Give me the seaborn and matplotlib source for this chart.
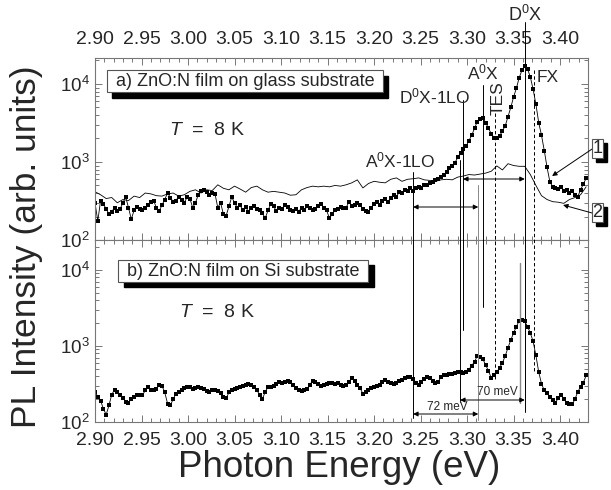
import numpy as np
import pandas as pd
import matplotlib
matplotlib.use("Agg")
import matplotlib.pyplot as plt
import seaborn as sns
from matplotlib.patches import Rectangle
from matplotlib.ticker import MultipleLocator, FormatStrFormatter

sns.set_style("ticks")
plt.rcParams["font.family"] = ["Liberation Sans", "DejaVu Sans"]
plt.rcParams["mathtext.fontset"] = "custom"
plt.rcParams["mathtext.rm"] = "Liberation Sans"
plt.rcParams["mathtext.it"] = "Liberation Sans:italic"
plt.rcParams["mathtext.bf"] = "Liberation Sans:bold"

# ---------------- data ----------------
E_START = 2.900
FINE_STEP = 0.003
COARSE_STEP = 0.006

# a) glass substrate, spectrum 1 (squares)
glass_1 = [
    300, 175, 320, 290, 250, 215, 230, 260, 235, 250,
    300, 355, 260, 185, 240, 265, 250, 240, 255, 280,
    310, 320, 260, 235, 280, 330, 400, 350, 310, 320,
    360, 330, 300, 355, 340, 260, 300, 380, 420, 440,
    410, 380, 400, 390, 260, 300, 215, 205, 270, 355,
    300, 260, 280, 240, 265, 230, 260, 270, 250, 240,
    220, 190, 240, 290, 270, 235, 260, 250, 280, 265,
    245, 235, 250, 230, 260, 240, 270, 255, 240, 250,
    270, 290, 260, 240, 190, 215, 240, 250, 265, 255,
    260, 310, 275, 280, 300, 280, 250, 235, 230, 260,
    290, 310, 280, 320, 340, 310, 350, 380, 360, 410,
    400, 440, 420, 460, 430, 470, 480, 470, 500, 510,
    530, 550, 580, 600, 640, 680, 740, 830, 900, 980,
    1150, 1300, 1450, 1600, 1870, 2200, 2700, 3300, 3600, 3700,
    3200, 2700, 2300, 2050, 2000, 2150, 2500, 2900, 3800, 5000,
    6800, 8800, 12000, 15000, 16800, 15500, 12300, 8500, 5500, 3200,
    2200, 1400, 850, 560, 480, 470, 450, 480, 430, 440,
    400, 430, 380, 360, 440, 520, 620,
]

# a) glass substrate, spectrum 2 (thin line)
glass_2 = [
    415, 380, 340, 350, 300, 330, 320, 365, 350, 400,
    390, 370, 365, 390, 400, 365, 380, 420, 440, 400,
    440, 430, 510, 460, 440, 490, 450, 410, 470, 490,
    440, 410, 420, 410, 400, 375, 380, 440, 470, 490,
    480, 490, 480, 500, 490, 510, 540, 590, 465, 530,
    565, 550, 540, 600, 625, 565, 600, 610, 625, 590,
    580, 565, 590, 600, 590, 640, 660, 690, 680, 700,
    720, 760, 890, 790, 950, 900, 880, 880, 690, 500,
    370, 330, 310, 305, 295, 330, 350, 380, 480,
]

# b) Si substrate (squares)
si_1 = [
    250, 215, 190, 150, 125, 165, 230, 265, 250, 230,
    210, 185, 180, 200, 215, 225, 230, 225, 260, 290,
    265, 260, 270, 310, 300, 245, 175, 165, 200, 235,
    250, 265, 280, 290, 285, 275, 280, 285, 280, 270,
    255, 245, 260, 265, 255, 240, 215, 205, 245, 260,
    270, 280, 290, 300, 310, 320, 310, 290, 265, 225,
    200, 250, 290, 285, 300, 320, 335, 330, 340, 345,
    335, 310, 280, 260, 255, 260, 270, 310, 350, 340,
    320, 300, 305, 320, 330, 325, 320, 325, 310, 300,
    305, 340, 375, 350, 310, 280, 235, 245, 260, 280,
    290, 295, 310, 340, 355, 340, 330, 320, 325, 345,
    360, 375, 385, 395, 370, 330, 305, 340, 370, 395,
    380, 345, 325, 340, 390, 415, 420, 430, 425, 445,
    455, 450, 445, 460, 490, 550, 620, 740, 720, 670,
    560, 470, 380, 410, 455, 520, 600, 740, 950, 1200,
    1480, 1800, 2150, 2200, 2100, 1800, 1480, 1150, 750, 455,
    320, 260, 240, 215, 195, 180, 205, 230, 200, 180,
    175, 170, 200, 250, 290, 330, 410,
]

energy_fine = np.round(E_START + FINE_STEP * np.arange(len(glass_1)), 3)
energy_coarse = np.round(E_START + COARSE_STEP * np.arange(len(glass_2)), 3)
energy_si = np.round(E_START + FINE_STEP * np.arange(len(si_1)), 3)

x_ticks = [2.90, 2.95, 3.00, 3.05, 3.10, 3.15, 3.20, 3.25, 3.30, 3.35, 3.40]

# peak / guide line positions (eV)
peaks = {"D0X": 3.362, "FX": 3.372, "TES": 3.330, "A0X": 3.317,
         "A0X_b": 3.312, "D0X-1LO": 3.2957, "D0X-1LO_b": 3.2925,
         "A0X-1LO": 3.242, "D0X_b": 3.357}

# ---------------- figure ----------------
W, H = 611, 490
fig = plt.figure(figsize=(W / 100, H / 100), dpi=100)
L, R = 95 / W, 588 / W
ax1 = fig.add_axes([L, 1 - 240 / H, R - L, 182 / H])
ax2 = fig.add_axes([L, 1 - 422 / H, R - L, 182 / H])

df1 = pd.DataFrame({"E": energy_fine, "I": glass_1})
df2 = pd.DataFrame({"E": energy_coarse, "I": glass_2})
df3 = pd.DataFrame({"E": energy_si, "I": si_1})

sns.lineplot(data=df2, x="E", y="I", ax=ax1, color="k", lw=0.6, estimator=None)
sns.lineplot(data=df1, x="E", y="I", ax=ax1, color="k", lw=0.6, estimator=None,
             marker="s", markersize=2.6, markeredgewidth=0)
sns.lineplot(data=df3, x="E", y="I", ax=ax2, color="k", lw=0.6, estimator=None,
             marker="s", markersize=2.6, markeredgewidth=0)

frame = "#777777"
for ax, ytop in ((ax1, 21500), (ax2, 24800)):
    ax.set_yscale("log")
    ax.set_ylim(100, ytop)
    ax.set_xlim(2.90, 3.43)
    ax.set_xticks(x_ticks)
    ax.xaxis.set_major_formatter(FormatStrFormatter("%.2f"))
    ax.xaxis.set_minor_locator(MultipleLocator(0.01))
    ax.set_xlabel("")
    ax.set_ylabel("")
    ax.tick_params(which="both", direction="in", top=True, right=True,
                   color=frame, width=0.7)
    ax.tick_params(which="major", length=5)
    ax.tick_params(which="minor", length=3)
    ax.tick_params(axis="y", pad=4, labelsize=13.5)
    ax.tick_params(axis="x", labelsize=14)
    for s in ax.spines.values():
        s.set_color(frame)
        s.set_linewidth(0.8)

ax1.tick_params(axis="x", labeltop=True, labelbottom=False, pad=7)
ax2.tick_params(axis="x", labeltop=False, labelbottom=True, pad=7)

# boxed panel titles with shadow
def shadow_box(ax, x0, y0, w, h, dx, dy, text):
    ax.add_patch(Rectangle((x0 + dx, y0 - dy), w, h, transform=ax.transAxes,
                           facecolor="k", edgecolor="k", zorder=5))
    ax.add_patch(Rectangle((x0, y0), w, h, transform=ax.transAxes,
                           facecolor="white", edgecolor="#555555", lw=0.8, zorder=6))
    ax.text(x0 + w / 2, y0 + h / 2, text, transform=ax.transAxes, ha="center",
            va="center", fontsize=13, zorder=7)

shadow_box(ax1, 0.0243, 0.813, 0.560, 0.121, 0.010, 0.033,
           "a) ZnO:N film on glass substrate")
shadow_box(ax2, 0.0467, 0.769, 0.507, 0.121, 0.012, 0.028,
           "b) ZnO:N film on Si substrate")

ax1.text(0.227, 0.604, r"$T$  =  8 K", transform=ax1.transAxes, ha="center",
         va="center", fontsize=14)
ax2.text(0.247, 0.604, r"$T$  =  8 K", transform=ax2.transAxes, ha="center",
         va="center", fontsize=14)

# overlay (x in eV, y in figure pixel rows) for guides spanning both panels
ov = fig.add_axes([L, 0, R - L, 1])
ov.set_xlim(2.90, 3.43)
ov.set_ylim(H, 0)
ov.axis("off")
ov.patch.set_alpha(0)

def vline(e, y0, y1, ls="-", c="k", lw=0.7):
    if ls == "--":
        ov.plot([e, e], [y0, y1], color=c, lw=lw, dashes=(3.5, 2.5))
    else:
        ov.plot([e, e], [y0, y1], color=c, lw=lw)

vline(peaks["D0X"], 22, 412)
vline(peaks["FX"], 70, 373, ls="--")
vline(peaks["TES"], 113, 380, ls="--")
vline(peaks["A0X"], 85, 307)
vline(peaks["A0X_b"], 185, 420, c="#888888")
vline(peaks["D0X-1LO"], 100, 330)
vline(peaks["D0X-1LO_b"], 160, 402)
vline(peaks["A0X-1LO"], 172, 418)
vline(peaks["D0X_b"], 263, 403, c="#888888", lw=1.0)

def harrow(e0, e1, y):
    ov.annotate("", xy=(e0, y), xytext=(e1, y),
                arrowprops=dict(arrowstyle="<|-|>", color="k", lw=0.7,
                                mutation_scale=7, shrinkA=0, shrinkB=0))

harrow(peaks["D0X-1LO"], peaks["D0X"], 179)
harrow(peaks["A0X-1LO"], peaks["A0X_b"], 207)
harrow(peaks["D0X-1LO_b"], peaks["D0X"], 400)
harrow(peaks["A0X-1LO"], peaks["A0X_b"], 414)
ov.text(3.333, 392, "70 meV", ha="center", va="center", fontsize=8.5)
ov.text(3.2785, 407, "72 meV", ha="center", va="center", fontsize=8.5)

# peak labels
pk = 12.5
ov.text(peaks["D0X"], 15, r"D$^0$X", ha="center", va="center", fontsize=pk + 0.5)
ov.text(peaks["A0X"], 72, r"A$^0$X", ha="center", va="center", fontsize=pk)
ov.text(3.2656, 96, r"D$^0$X-1LO", ha="center", va="center", fontsize=pk)
ov.text(3.3335, 98, "TES", ha="center", va="center", fontsize=pk, rotation=90)
ov.text(3.387, 77, "FX", ha="center", va="center", fontsize=pk)
ov.text(3.228, 160, r"A$^0$X-1LO", ha="center", va="center", fontsize=pk)

# curve labels 1 and 2, boxed with shadow
bx0, bw = 3.4344, 0.0118
sdx = 0.0043
for lab, ytop, tgt in (("1", 139, (3.3914, 176)), ("2", 203, (3.4032, 205))):
    ov.add_patch(Rectangle((bx0 + sdx, ytop + 4), bw, 19, facecolor="k",
                           edgecolor="k", clip_on=False, zorder=4))
    ov.add_patch(Rectangle((bx0, ytop), bw, 19, facecolor="white",
                           edgecolor="#555555", lw=0.8, clip_on=False, zorder=5))
    ov.text(bx0 + bw / 2, ytop + 9.5, lab, ha="center", va="center",
            fontsize=13, clip_on=False, zorder=6)
    ov.annotate("", xy=tgt, xytext=(bx0, ytop + 10),
                arrowprops=dict(arrowstyle="-|>", color="k", lw=0.7,
                                mutation_scale=7, shrinkA=0, shrinkB=0))

fig.text(339 / W, 1 - 467 / H, "Photon Energy (eV)", ha="center", va="center",
         fontsize=26.5)
fig.text(27 / W, 1 - 247 / H, "PL Intensity (arb. units)", ha="center",
         va="center", rotation=90, fontsize=25.5)

fig.savefig("out.png", dpi=100, facecolor="white")
